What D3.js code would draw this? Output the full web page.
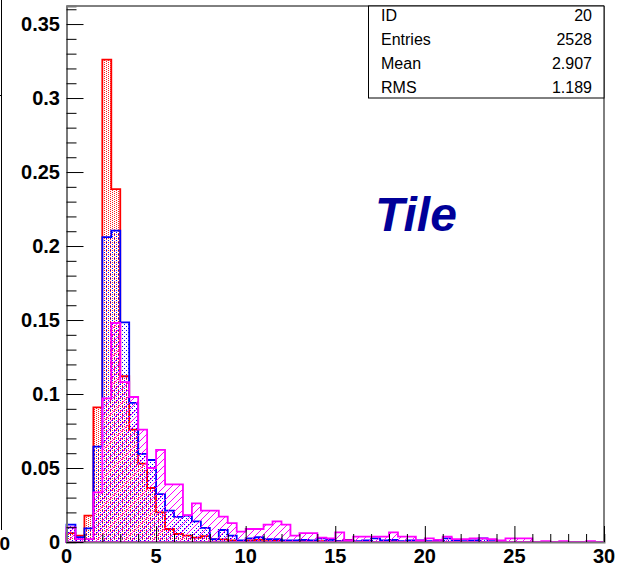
<!DOCTYPE html>
<html>
<head>
<meta charset="utf-8">
<script src="https://cdn.jsdelivr.net/npm/d3@7"></script>
<style>
  html, body { margin: 0; padding: 0; background: #fff; }
  svg { display: block; }
  text { font-family: "Liberation Sans", Arial, Helvetica, sans-serif; }
</style>
</head>
<body>
<div id="chart"></div>
<script>
"use strict"

// histogram contents, 60 bins of width 0.5 from 0 to 30
const binWidth = 0.5;

const redVals = [
    0.006, 0.0043, 0.0178, 0.091, 0.326, 0.2385, 0.112, 0.076, 0.053, 0.0365,
    0.020, 0.0088, 0.0054, 0.0043, 0.003, 0.004, 0.0018, 0.0018, 0.001, 0.0005,
    0.001, 0.0015, 0.0015, 0.001, 0.0005, 0.0005, 0.001, 0.0005, 0.0005, 0,
    0.0005, 0.0015, 0, 0, 0, 0, 0.0005, 0, 0, 0,
    0, 0, 0, 0, 0, 0, 0, 0, 0, 0,
    0, 0, 0, 0, 0, 0, 0, 0, 0, 0
];

const blueVals = [
    0.0117, 0.0032, 0.0092, 0.0644, 0.206, 0.2104, 0.1484, 0.094, 0.0595, 0.0554,
    0.0324, 0.0212, 0.017, 0.0178, 0.014, 0.0095, 0.002, 0.0081, 0.0043, 0.001,
    0.0025, 0.0032, 0.002, 0.002, 0.001, 0.001, 0.0015, 0.001, 0.0025, 0.0015,
    0.0005, 0.001, 0.0005, 0.001, 0.0025, 0.001, 0.0015, 0.0005, 0.001, 0.001,
    0.0005, 0.001, 0.0025, 0.001, 0.0005, 0.001, 0.0025, 0.0005, 0.0005, 0,
    0, 0, 0, 0, 0, 0, 0, 0, 0, 0
];

const magentaVals = [
    0.0099, 0.002, 0.002, 0.0336, 0.097, 0.148, 0.108, 0.098, 0.076, 0.050,
    0.0622, 0.039, 0.039, 0.0182, 0.0261, 0.0212, 0.0212, 0.0171, 0.0128, 0.007,
    0.0088, 0.0088, 0.0117, 0.014, 0.0117, 0.0043, 0.006, 0.006, 0.003, 0.0025,
    0.0065, 0.001, 0.0036, 0.0036, 0.0036, 0.0036, 0.0065, 0.0036, 0.0036, 0.001,
    0.0025, 0.0015, 0.0036, 0.002, 0.002, 0.0025, 0.0025, 0.002, 0.001, 0.0025,
    0.0025, 0.0025, 0, 0.0005, 0, 0.0005, 0, 0, 0.0005, 0
];

const xTickLabels = [0, 5, 10, 15, 20, 25, 30];
const yTickLabels = [0, 0.05, 0.1, 0.15, 0.2, 0.25, 0.3, 0.35];

const statsRows = [
    ["ID", "20"],
    ["Entries", "2528"],
    ["Mean", "2.907"],
    ["RMS", "1.189"]
];

const width = 631, height = 572;
const frame = { left: 66.5, right: 604, top: 6, bottom: 542 };

let svg = d3.select("#chart").append("svg")
    .attr("width", width)
    .attr("height", height);

let x = d3.scaleLinear().domain([0, 30]).range([frame.left, frame.right]);
let y = d3.scaleLinear().domain([0, 0.3622]).range([frame.bottom, frame.top]);

/* fill patterns like the root ones */
let defs = svg.append("defs");

function dotPattern(id, w, h, cells, color) {
    let p = defs.append("pattern")
        .attr("id", id)
        .attr("patternUnits", "userSpaceOnUse")
        .attr("width", w).attr("height", h);
    cells.forEach(c => {
        p.append("rect")
            .attr("x", c[0]).attr("y", c[1])
            .attr("width", 1).attr("height", 1)
            .attr("fill", color)
            .attr("shape-rendering", "crispEdges");
    });
}

dotPattern("redDots", 4, 4, [[0, 0], [2, 1], [0, 2], [2, 3]], "#ff2020");
dotPattern("blueDots", 4, 4, [[0, 0], [2, 2]], "#0000ff");

let magPat = defs.append("pattern")
    .attr("id", "magHatch")
    .attr("patternUnits", "userSpaceOnUse")
    .attr("width", 7).attr("height", 7);
for (let i = 0; i < 7; i++) {
    magPat.append("rect")
        .attr("x", i).attr("y", 6 - i)
        .attr("width", 1).attr("height", 1)
        .attr("fill", "#ff00ff")
        .attr("shape-rendering", "crispEdges");
}

/* neighbouring pad edge on the far left */
svg.append("line")
    .attr("x1", 1.5).attr("x2", 1.5)
    .attr("y1", 0).attr("y2", 530)
    .attr("stroke", "#000").attr("stroke-width", 1);
svg.append("line")
    .attr("x1", 0).attr("x2", 2)
    .attr("y1", 95.5).attr("y2", 95.5)
    .attr("stroke", "#000").attr("stroke-width", 1);
svg.append("text")
    .attr("x", 10).attr("y", 550)
    .attr("text-anchor", "end")
    .style("font-size", "19px").style("font-weight", "bold")
    .text("50");

/* histogram outline as a step polygon */
function histPath(vals) {
    let pts = [[x(0), y(0)]];
    vals.forEach((v, i) => {
        pts.push([x(i * binWidth), y(v)]);
        pts.push([x((i + 1) * binWidth), y(v)]);
    });
    pts.push([x(vals.length * binWidth), y(0)]);
    return d3.line()(pts) + "Z";
}

let hists = [
    { vals: redVals, color: "#ff0000", fill: "url(#redDots)" },
    { vals: blueVals, color: "#0000ff", fill: "url(#blueDots)" },
    { vals: magentaVals, color: "#ff00ff", fill: "url(#magHatch)" }
];

hists.forEach(h => {
    svg.append("path")
        .attr("d", histPath(h.vals))
        .attr("fill", h.fill)
        .attr("stroke", "none")
        .attr("shape-rendering", "crispEdges");
    svg.append("path")
        .attr("d", histPath(h.vals))
        .attr("fill", "none")
        .attr("stroke", h.color)
        .attr("stroke-width", 1.8)
        .attr("stroke-linejoin", "miter");
});

/* frame top and right */
svg.append("line")
    .attr("x1", frame.left).attr("x2", frame.right)
    .attr("y1", frame.top).attr("y2", frame.top)
    .attr("stroke", "#000").attr("stroke-width", 1);
svg.append("line")
    .attr("x1", frame.right).attr("x2", frame.right)
    .attr("y1", frame.top).attr("y2", frame.bottom)
    .attr("stroke", "#000").attr("stroke-width", 1);

/* axes */
let xAxis = d3.axisBottom(x)
    .tickValues(d3.range(0, 31, 1))
    .tickSize(-8)
    .tickFormat("");
let xG = svg.append("g")
    .attr("transform", `translate(0,${frame.bottom})`)
    .call(xAxis);
xG.selectAll(".tick line")
    .attr("y2", d => d % 5 === 0 ? -16 : -8)
    .attr("stroke", "#000");
xG.select(".domain").attr("stroke", "#777").attr("stroke-width", 2);

let yAxis = d3.axisLeft(y)
    .tickValues(d3.range(0, 0.3601, 0.01))
    .tickSize(-10)
    .tickFormat("");
let yG = svg.append("g")
    .attr("transform", `translate(${frame.left},0)`)
    .call(yAxis);
yG.selectAll(".tick line")
    .attr("x2", (d, i) => i % 5 === 0 ? 17 : 10)
    .attr("stroke", "#000");
yG.select(".domain").attr("stroke", "#777").attr("stroke-width", 2);

svg.selectAll(".xlab")
    .data(xTickLabels)
    .enter().append("text")
    .attr("class", "xlab")
    .attr("x", d => x(d))
    .attr("y", 563)
    .attr("text-anchor", "middle")
    .style("font-size", "20px")
    .style("font-weight", "bold")
    .text(d => d);

svg.selectAll(".ylab")
    .data(yTickLabels)
    .enter().append("text")
    .attr("class", "ylab")
    .attr("x", 60)
    .attr("y", d => y(d) + 7)
    .attr("text-anchor", "end")
    .style("font-size", "20px")
    .style("font-weight", "bold")
    .text(d => d);

/* stats box */
svg.append("rect")
    .attr("x", 368.5).attr("y", frame.top)
    .attr("width", frame.right - 368.5).attr("height", 92)
    .attr("fill", "#fff")
    .attr("stroke", "#000").attr("stroke-width", 1);

statsRows.forEach((row, i) => {
    svg.append("text")
        .attr("x", 381).attr("y", 21 + i * 24)
        .style("font-size", "16px")
        .text(row[0]);
    svg.append("text")
        .attr("x", 592).attr("y", 21 + i * 24)
        .attr("text-anchor", "end")
        .style("font-size", "16px")
        .text(row[1]);
});

/* title inside the pad */
svg.append("text")
    .attr("x", 375).attr("y", 231)
    .style("font-size", "48px")
    .style("font-weight", "bold")
    .style("font-style", "italic")
    .style("fill", "#000099")
    .text("Tile");
</script>
</body>
</html>
